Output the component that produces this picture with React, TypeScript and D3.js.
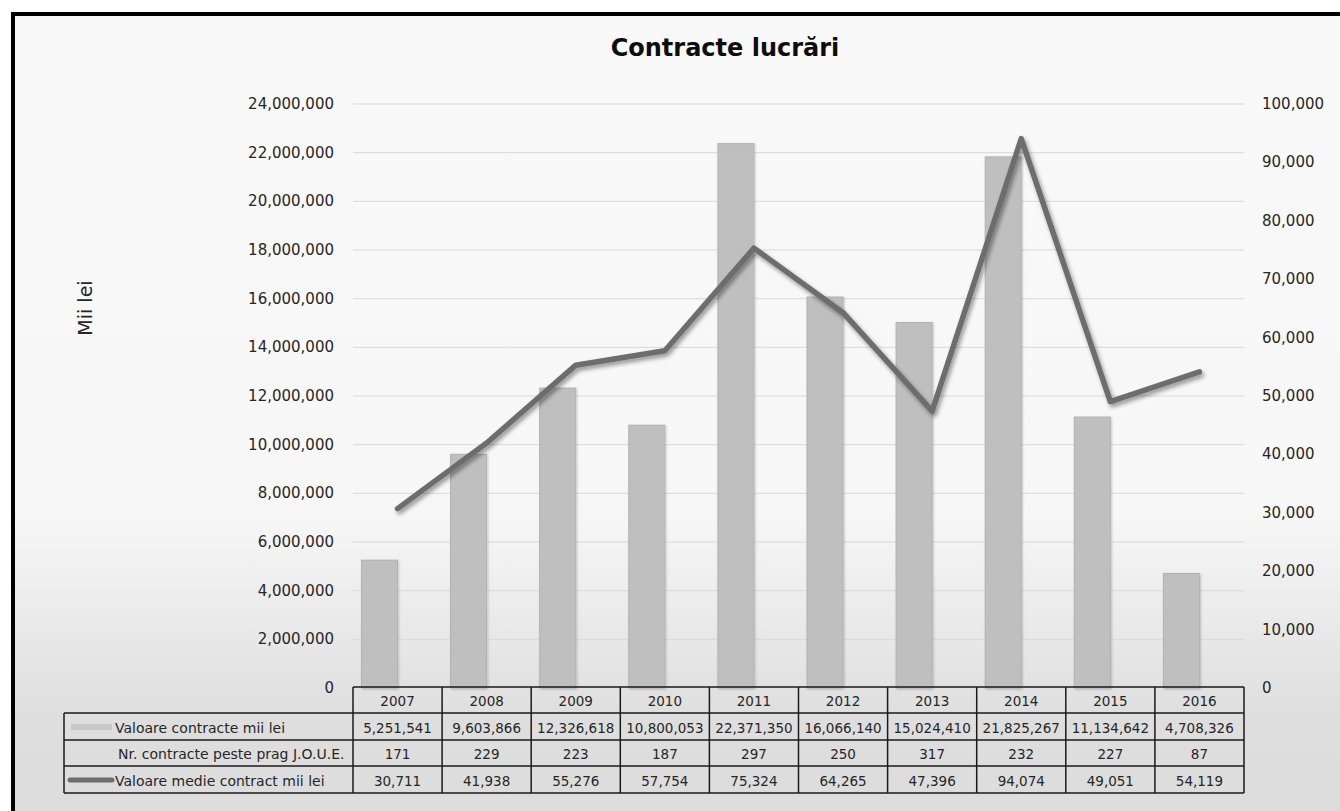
import React from "react";
import * as d3 from "d3";

const years = ["2007", "2008", "2009", "2010", "2011", "2012", "2013", "2014", "2015", "2016"];
const valoareContracte = [5251541, 9603866, 12326618, 10800053, 22371350, 16066140, 15024410, 21825267, 11134642, 4708326];
const nrContracte = [171, 229, 223, 187, 297, 250, 317, 232, 227, 87];
const valoareMedie = [30711, 41938, 55276, 57754, 75324, 64265, 47396, 94074, 49051, 54119];
const leftTicks = [0, 2000000, 4000000, 6000000, 8000000, 10000000, 12000000, 14000000, 16000000, 18000000, 20000000, 22000000, 24000000];
const rightTicks = [0, 10000, 20000, 30000, 40000, 50000, 60000, 70000, 80000, 90000, 100000];
const rowLabels = ["Valoare contracte mii lei", "Nr. contracte peste prag J.O.U.E.", "Valoare medie contract mii lei"];
const title = "Contracte lucrări";
const yTitle = "Mii lei";

const W = 1340;
const H = 811;
const FONT = "'DejaVu Sans', sans-serif";

export default function App() {
  const plotL = 353, plotR = 1244, plotT = 104, plotB = 688;
  const x = d3.scaleBand<string>().domain(years).range([plotL, plotR]).paddingInner(0).paddingOuter(0);
  const sub = d3.scaleBand<string>().domain(["val", "nr"]).range([0, x.bandwidth()]).paddingInner(0).paddingOuter(0.236);
  const yL = d3.scaleLinear().domain([0, 24000000]).range([plotB, plotT]);
  const yR = d3.scaleLinear().domain([0, 100000]).range([plotB, plotT]);
  const fmt = d3.format(",");
  const line = d3.line<number>()
    .x((_, i) => (x(years[i]) as number) + x.bandwidth() / 2)
    .y((d) => yR(d));

  const tableL = 64;
  const hdrT = 687, r1 = 713, r2 = 740, r3 = 766, r4 = 793;
  const rowsY = [r1, r2, r3, r4];
  const rowVals = [valoareContracte, nrContracte, valoareMedie];
  const textCol = "#262626";

  return (
    <svg width={W} height={H} style={{ position: "absolute", left: 0, top: 0 }} xmlns="http://www.w3.org/2000/svg">
      <defs>
        <linearGradient id="bg" x1="0" y1="0" x2="0" y2="1">
          <stop offset="0" stopColor="#f9f9f9" />
          <stop offset="0.6" stopColor="#f7f7f7" />
          <stop offset="0.85" stopColor="#dedede" />
          <stop offset="1" stopColor="#dcdcdc" />
        </linearGradient>
        <filter id="lshadow" x="-10%" y="-10%" width="120%" height="130%">
          <feDropShadow dx="2" dy="3" stdDeviation="2.2" floodColor="#000" floodOpacity="0.4" />
        </filter>
        <filter id="bshadow" x="-20%" y="-5%" width="140%" height="110%">
          <feDropShadow dx="1" dy="1" stdDeviation="1.2" floodColor="#000" floodOpacity="0.2" />
        </filter>
      </defs>
      <rect x={0} y={0} width={W} height={H} fill="#ffffff" />
      <rect x={13} y={14} width={W + 20} height={H + 20} fill="url(#bg)" stroke="#000" strokeWidth={4} />

      <text x={725} y={56} textAnchor="middle" fontFamily={FONT} fontWeight="bold" fontSize={24} fill="#0d0d0d">{title}</text>

      <text transform={`translate(92,308) rotate(-90)`} textAnchor="middle" fontFamily={FONT} fontSize={19} fill={textCol}>{yTitle}</text>

      {leftTicks.filter((t) => t > 0).map((t) => (
        <line key={"g" + t} x1={plotL} x2={plotR} y1={yL(t)} y2={yL(t)} stroke="#d9d9d9" strokeWidth={1} />
      ))}

      {leftTicks.map((t) => (
        <text key={"l" + t} x={334} y={yL(t)} textAnchor="end" dominantBaseline="central" fontFamily={FONT} fontSize={15} fill={textCol}>{fmt(t)}</text>
      ))}
      {rightTicks.map((t) => (
        <text key={"r" + t} x={1262} y={yR(t)} textAnchor="start" dominantBaseline="central" fontFamily={FONT} fontSize={15} fill={textCol}>{fmt(t)}</text>
      ))}

      {valoareContracte.map((v, i) => (
        <rect key={"b" + i} x={(x(years[i]) as number) + (sub("val") as number)} y={yL(v)} width={sub.bandwidth()} height={plotB - yL(v)}
          fill="#bfbfbf" stroke="#b2b2b2" strokeWidth={1} filter="url(#bshadow)" />
      ))}

      <path d={line(valoareMedie) || ""} fill="none" stroke="#6d6d6d" strokeWidth={5.5} strokeLinejoin="round" strokeLinecap="round" filter="url(#lshadow)" />

      <g stroke="#1a1a1a" strokeWidth={1.5} fill="none">
        <line x1={plotL} x2={plotR} y1={hdrT} y2={hdrT} />
        {rowsY.map((ry) => (
          <line key={"h" + ry} x1={tableL} x2={plotR} y1={ry} y2={ry} />
        ))}
        <line x1={tableL} x2={tableL} y1={r1} y2={r4} />
        {years.map((yr) => (
          <line key={"v" + yr} x1={x(yr) as number} x2={x(yr) as number} y1={hdrT} y2={r4} />
        ))}
        <line x1={plotR} x2={plotR} y1={hdrT} y2={r4} />
      </g>
      {years.map((yr) => (
        <text key={"y" + yr} x={(x(yr) as number) + x.bandwidth() / 2} y={(hdrT + r1) / 2 + 1} textAnchor="middle" dominantBaseline="central" fontFamily={FONT} fontSize={13.5} fill={textCol}>{yr}</text>
      ))}
      {rowVals.map((vals, ri) =>
        vals.map((v, i) => (
          <text key={"c" + ri + "-" + i} x={(x(years[i]) as number) + x.bandwidth() / 2} y={(rowsY[ri] + rowsY[ri + 1]) / 2 + 1} textAnchor="middle" dominantBaseline="central" fontFamily={FONT} fontSize={13.5} fill={textCol}>{fmt(v)}</text>
        ))
      )}
      {rowLabels.map((lab, ri) => (
        <text key={"rl" + ri} x={ri === 1 ? 118 : 115} y={(rowsY[ri] + rowsY[ri + 1]) / 2 + 1} textAnchor="start" dominantBaseline="central" fontFamily={FONT} fontSize={14} fill={textCol}>{lab}</text>
      ))}
      <rect x={71} y={724} width={41} height={6} fill="#c8c8c8" />
      <line x1={70} x2={112} y1={780} y2={780} stroke="#6d6d6d" strokeWidth={5} strokeLinecap="round" />
    </svg>
  );
}
